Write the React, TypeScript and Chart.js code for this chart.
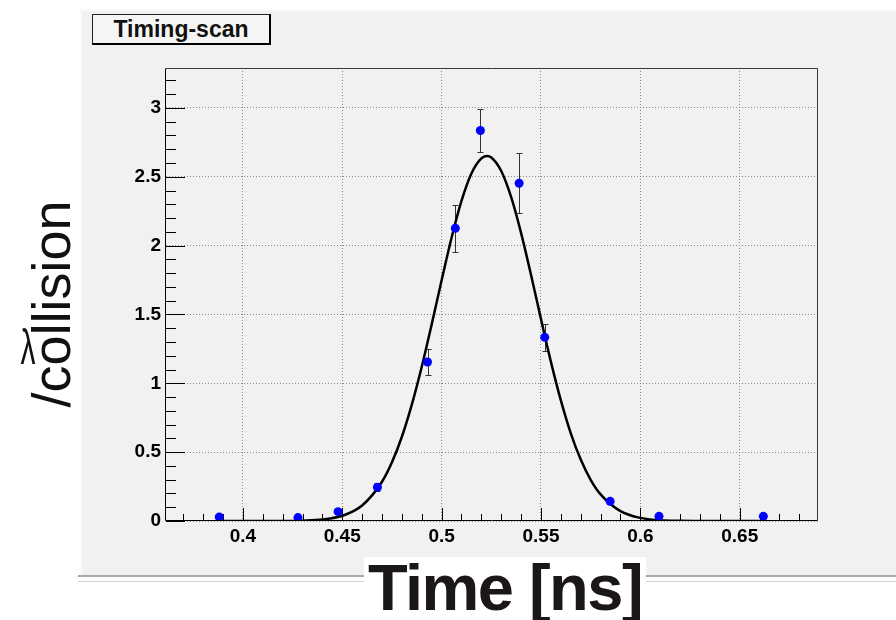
import React, { useEffect, useRef } from "react";
import { Chart, registerables } from "chart.js";

Chart.register(...registerables);

// ---- data ----
const timeNs = [0.3881, 0.4277, 0.4479, 0.4677, 0.4929, 0.5069, 0.5195, 0.539, 0.5519, 0.5848, 0.6094, 0.6619];
const photonsPerCollision = [0.029, 0.025, 0.068, 0.245, 1.155, 2.126, 2.836, 2.453, 1.334, 0.143, 0.034, 0.034];
const photonsError = [0, 0, 0, 0.03, 0.097, 0.172, 0.157, 0.217, 0.1, 0, 0, 0];

const fitTime = [0.39, 0.42, 0.43, 0.44, 0.45, 0.46, 0.47, 0.475, 0.48, 0.485, 0.49, 0.495, 0.5, 0.505, 0.51, 0.515, 0.52, 0.5228, 0.525, 0.53, 0.535, 0.54, 0.545, 0.55, 0.555, 0.56, 0.565, 0.57, 0.575, 0.58, 0.59, 0.6, 0.61, 0.62, 0.63, 0.66];
const fitValue = [0, 0.0006, 0.0027, 0.011, 0.038, 0.113, 0.285, 0.426, 0.612, 0.845, 1.12, 1.428, 1.748, 2.057, 2.325, 2.524, 2.633, 2.65, 2.64, 2.542, 2.352, 2.091, 1.787, 1.466, 1.156, 0.876, 0.637, 0.446, 0.299, 0.193, 0.0715, 0.0225, 0.006, 0.0014, 0.0003, 0];

const xTickValues = [0.4, 0.45, 0.5, 0.55, 0.6, 0.65];
const xTickLabels = ["0.4", "0.45", "0.5", "0.55", "0.6", "0.65"];
const yTickValues = [0, 0.5, 1, 1.5, 2, 2.5, 3];
const yTickLabels = ["0", "0.5", "1", "1.5", "2", "2.5", "3"];
const xMinorTicks = [0.37, 0.38, 0.39, 0.41, 0.42, 0.43, 0.44, 0.46, 0.47, 0.48, 0.49, 0.51, 0.52, 0.53, 0.54, 0.56, 0.57, 0.58, 0.59, 0.61, 0.62, 0.63, 0.64, 0.66, 0.67, 0.68];
const yMinorTicks = [0.1, 0.2, 0.3, 0.4, 0.6, 0.7, 0.8, 0.9, 1.1, 1.2, 1.3, 1.4, 1.6, 1.7, 1.8, 1.9, 2.1, 2.2, 2.3, 2.4, 2.6, 2.7, 2.8, 2.9, 3.1, 3.2];

const X_MIN = 0.3613;
const X_MAX = 0.6894;
const Y_MIN = 0;
const Y_MAX = 3.29;

const TITLE = "Timing-scan";
const X_TITLE = "Time [ns]";
const Y_TITLE = "/collision";
const Y_SYMBOL = "λ";

const W = 896;
const H = 620;
const FONT = "'Liberation Sans', Arial, Helvetica, sans-serif";

const rootStyle = {
  id: "rootStyle",
  beforeDraw(chart: any) {
    const ctx = chart.ctx;
    ctx.save();
    ctx.fillStyle = "#ffffff";
    ctx.fillRect(0, 0, W, H);
    ctx.fillStyle = "#f1f1f1";
    ctx.fillRect(80, 9, W - 80, 566);
    ctx.fillStyle = "#fafafa";
    ctx.fillRect(80, 9, 2, 566);
    ctx.fillRect(80, 9, W - 80, 2);
    ctx.fillStyle = "#a9a9a9";
    ctx.fillRect(78, 575, W - 78, 2);
    ctx.fillStyle = "#d4d4d4";
    ctx.fillRect(78, 581, W - 78, 1);
    ctx.restore();
  },
  beforeDatasetsDraw(chart: any) {
    const ctx = chart.ctx;
    const xs = chart.scales.x;
    const ys = chart.scales.y;
    const a = chart.chartArea;
    ctx.save();
    // inward ticks
    ctx.strokeStyle = "#000";
    ctx.lineWidth = 1;
    ctx.beginPath();
    const bottom = Math.round(a.bottom);
    const left = Math.round(a.left);
    xTickValues.forEach((v) => {
      const px = Math.round(xs.getPixelForValue(v)) + 0.5;
      ctx.moveTo(px, bottom);
      ctx.lineTo(px, bottom - 13);
    });
    xMinorTicks.forEach((v) => {
      const px = Math.round(xs.getPixelForValue(v)) + 0.5;
      ctx.moveTo(px, bottom);
      ctx.lineTo(px, bottom - 7);
    });
    yTickValues.forEach((v) => {
      const py = Math.round(ys.getPixelForValue(v)) + 0.5;
      ctx.moveTo(left, py);
      ctx.lineTo(left + 19, py);
    });
    yMinorTicks.forEach((v) => {
      const py = Math.round(ys.getPixelForValue(v)) + 0.5;
      ctx.moveTo(left, py);
      ctx.lineTo(left + 10, py);
    });
    ctx.stroke();
    // error bars
    ctx.strokeStyle = "#333";
    ctx.beginPath();
    timeNs.forEach((t, i) => {
      const e = photonsError[i];
      if (!e) return;
      const v = photonsPerCollision[i];
      const px = Math.round(xs.getPixelForValue(t)) + 0.5;
      const top = Math.round(ys.getPixelForValue(v + e)) + 0.5;
      const bot = Math.round(ys.getPixelForValue(v - e)) + 0.5;
      ctx.moveTo(px, top);
      ctx.lineTo(px, bot);
      ctx.moveTo(px - 3, top);
      ctx.lineTo(px + 3, top);
      ctx.moveTo(px - 3, bot);
      ctx.lineTo(px + 3, bot);
    });
    ctx.stroke();
    ctx.restore();
  },
  afterDatasetsDraw(chart: any) {
    const ctx = chart.ctx;
    const a = chart.chartArea;
    const l = Math.round(a.left) - 0.5;
    const r = Math.round(a.right) - 0.5;
    const t = Math.round(a.top) + 0.5;
    const b = Math.round(a.bottom) - 0.5;
    ctx.save();
    ctx.lineWidth = 1;
    ctx.strokeStyle = "#3a3a3a";
    ctx.beginPath();
    ctx.moveTo(l, t);
    ctx.lineTo(r, t);
    ctx.lineTo(r, b);
    ctx.stroke();
    ctx.strokeStyle = "#000";
    ctx.beginPath();
    ctx.moveTo(l, t);
    ctx.lineTo(l, b);
    ctx.lineTo(r, b);
    ctx.stroke();
    ctx.restore();
  },
};

export default function App() {
  const canvasRef = useRef<HTMLCanvasElement | null>(null);

  useEffect(() => {
    const canvas = canvasRef.current;
    if (!canvas) return;
    const tickFont = { family: FONT, size: 19, weight: "bold" as const };
    const chart = new Chart(canvas, {
      type: "scatter",
      data: {
        datasets: [
          {
            label: "data",
            data: timeNs.map((t, i) => ({ x: t, y: photonsPerCollision[i] })),
            backgroundColor: "#0000ff",
            borderColor: "#0000ff",
            pointRadius: 4.5,
            pointBorderWidth: 0,
            showLine: false,
          },
          {
            label: "fit",
            data: fitTime.map((t, i) => ({ x: t, y: fitValue[i] })),
            borderColor: "#000000",
            backgroundColor: "#000000",
            borderWidth: 2.5,
            pointRadius: 0,
            showLine: true,
            cubicInterpolationMode: "monotone",
          } as any,
        ],
      },
      options: {
        responsive: false,
        maintainAspectRatio: false,
        animation: false,
        events: [],
        layout: { padding: { left: 0, right: 78, top: 68, bottom: 0 } },
        plugins: {
          legend: { display: false },
          tooltip: { enabled: false },
          title: { display: false },
        },
        scales: {
          x: {
            type: "linear",
            min: X_MIN,
            max: X_MAX,
            afterBuildTicks: (s: any) => {
              s.ticks = xTickValues.map((v) => ({ value: v }));
            },
            afterFit: (s: any) => {
              s.height = H - 521;
            },
            ticks: {
              color: "#000",
              font: tickFont,
              padding: 4,
              maxRotation: 0,
              autoSkip: false,
              callback: (_v: any, i: number) => xTickLabels[i],
            },
            grid: { color: "#8a8a8a", lineWidth: 1, drawTicks: false },
            border: { display: false, dash: [1, 2] },
          },
          y: {
            type: "linear",
            min: Y_MIN,
            max: Y_MAX,
            afterBuildTicks: (s: any) => {
              s.ticks = yTickValues.map((v) => ({ value: v }));
            },
            afterFit: (s: any) => {
              s.width = 166;
            },
            ticks: {
              color: "#000",
              font: tickFont,
              padding: 5,
              autoSkip: false,
              callback: (_v: any, i: number) => yTickLabels[i],
            },
            grid: { color: "#8a8a8a", lineWidth: 1, drawTicks: false },
            border: { display: false, dash: [1, 2] },
          },
        },
      },
      plugins: [rootStyle],
    });
    return () => chart.destroy();
  }, []);

  return (
    <div style={{ position: "absolute", left: 0, top: 0, width: W, height: H, background: "#fff", overflow: "hidden" }}>
      <canvas ref={canvasRef} width={W} height={H} style={{ display: "block", width: W, height: H }} />
      <div
        style={{
          position: "absolute",
          left: 92,
          top: 14,
          width: 179,
          height: 31,
          boxSizing: "border-box",
          borderLeft: "1px solid #222",
          borderTop: "1px solid #222",
          borderRight: "2px solid #000",
          borderBottom: "2px solid #000",
          background: "#f5f5f5",
          fontFamily: FONT,
          fontWeight: "bold",
          fontSize: 23,
          lineHeight: "28px",
          textAlign: "center",
          color: "#111",
        }}
      >
        {TITLE}
      </div>
      <div
        style={{
          position: "absolute",
          left: -59,
          top: 277,
          width: 220,
          height: 54,
          fontFamily: FONT,
          fontSize: 54,
          lineHeight: "54px",
          textAlign: "center",
          color: "#111",
          transform: "rotate(-90deg)",
          whiteSpace: "nowrap",
        }}
      >
        {Y_TITLE}
      </div>
      <div
        style={{
          position: "absolute",
          left: 13,
          top: 322,
          width: 30,
          height: 50,
          fontFamily: FONT,
          fontSize: 50,
          lineHeight: "50px",
          textAlign: "center",
          color: "#111",
          transform: "scaleX(0.6)",
        }}
      >
        {Y_SYMBOL}
      </div>
      <div
        style={{
          position: "absolute",
          left: 364,
          top: 557,
          width: 282,
          height: 63,
          background: "#fff",
          fontFamily: FONT,
          fontWeight: "bold",
          fontSize: 65,
          letterSpacing: -1.5,
          lineHeight: "61px",
          textAlign: "center",
          color: "#1b1717",
          whiteSpace: "nowrap",
        }}
      >
        {X_TITLE}
      </div>
    </div>
  );
}
